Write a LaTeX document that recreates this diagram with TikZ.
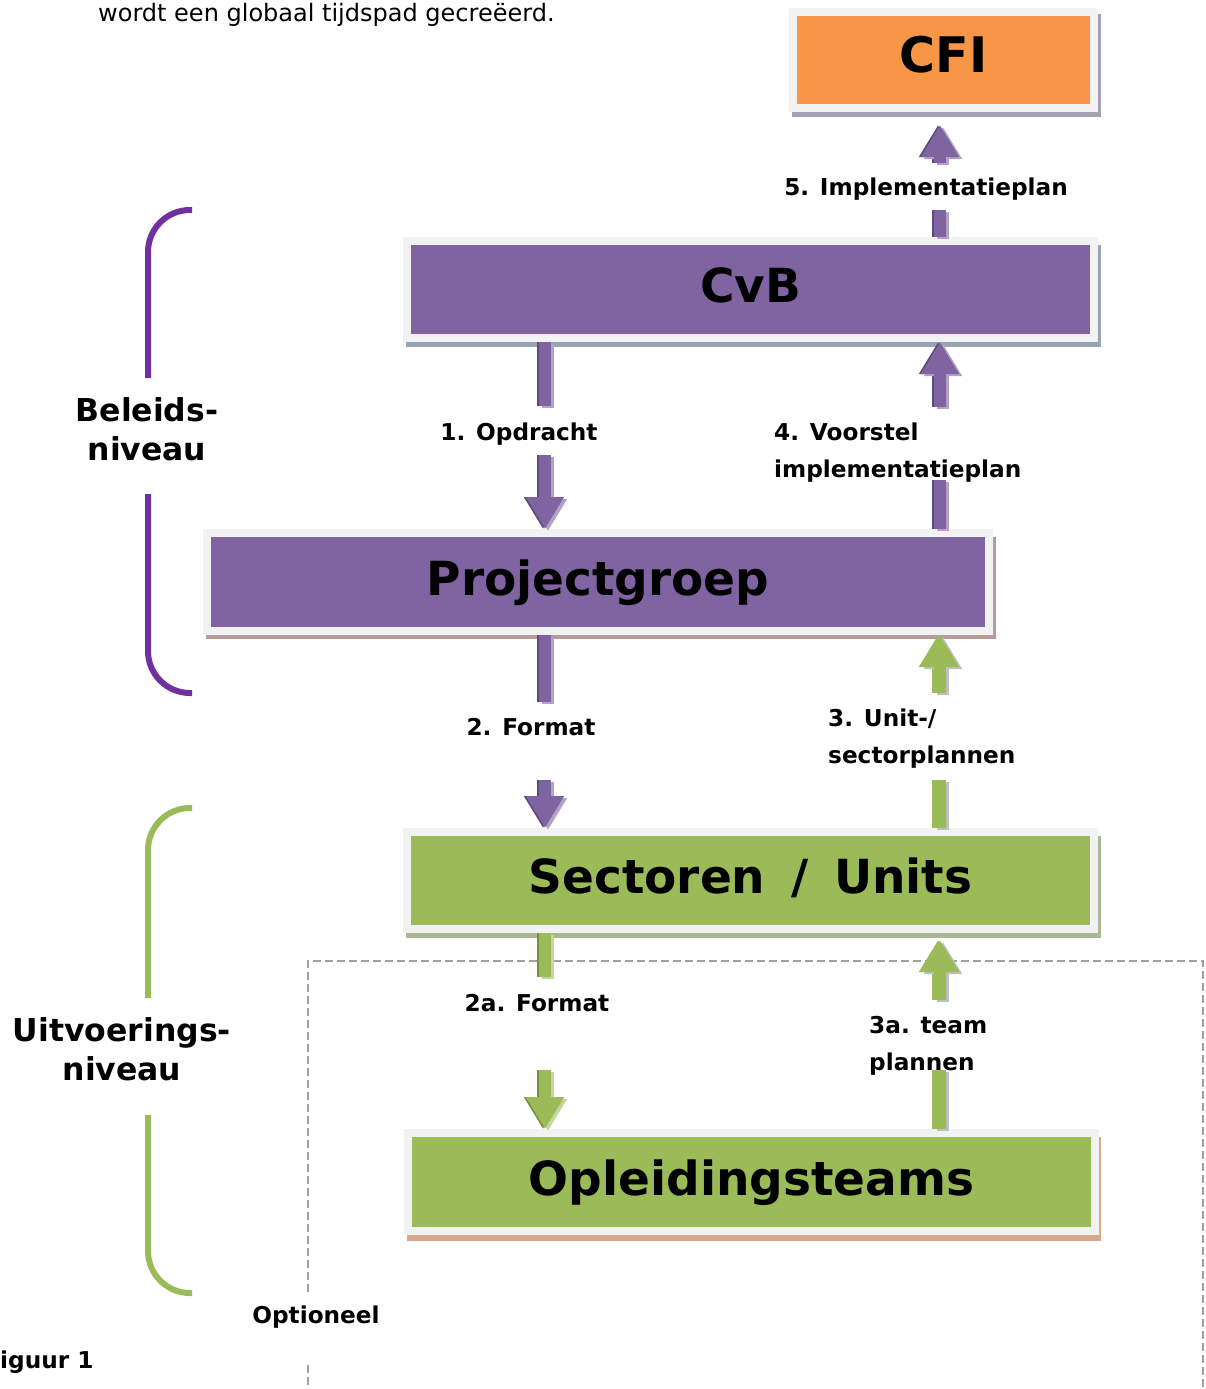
\documentclass[tikz,border=0pt]{standalone}
\usepackage{fontspec}
\setmainfont{DejaVu Sans}
\usetikzlibrary{arrows.meta}
\definecolor{pmain}{HTML}{8064A2}
\definecolor{pdark}{HTML}{5F497A}
\definecolor{plight}{HTML}{B3A2C7}
\definecolor{gmain}{HTML}{9BBB59}
\definecolor{gdark}{HTML}{76923C}
\definecolor{glight}{HTML}{C3D69B}
\definecolor{gshade}{HTML}{BFBFBF}
\definecolor{cfiorange}{HTML}{F79646}
\definecolor{framegray}{HTML}{F2F2F2}
\definecolor{bpurple}{HTML}{7030A0}
\definecolor{shcfi}{HTML}{A6A0B4}
\definecolor{shcvb}{HTML}{98A4B4}
\definecolor{shpg}{HTML}{B89A9A}
\definecolor{shsect}{HTML}{AAB894}
\definecolor{shopl}{HTML}{D8AA8C}
\definecolor{dashgray}{HTML}{A0A0A0}
\tikzset{
  boxst/.style={draw=framegray, line width=8pt, inner sep=0pt,
    font=\bfseries\fontsize{47}{50}\selectfont, text height=34pt, text depth=8pt},
  lbl/.style={inner sep=0pt, font=\bfseries\fontsize{23.2}{37}\selectfont},
  lvl/.style={inner sep=0pt, align=center, font=\bfseries\fontsize{31.5}{39}\selectfont},
  tipd/.style={-{Triangle[width=36pt,length=32pt]}},
  notip/.style={},
  bracketline/.style={line width=6pt, rounded corners=42pt},
  dashline/.style={draw=dashgray, line width=1.3pt, dash pattern=on 8pt off 4pt}
}
\newcommand{\fatarrow}[5]{%
  \draw[line width=12pt, draw=#2, #4, transform canvas={xshift=-2pt}] #5;
  \draw[line width=12pt, draw=#3, #4, transform canvas={xshift=3pt, yshift=-2pt}] #5;
  \draw[line width=12pt, draw=#1, #4] #5;
}
\begin{document}
\begin{tikzpicture}[x=1pt,y=-1pt]
\useasboundingbox[fill=white] (0,0) rectangle (1205,1389);

% top text
\node[inner sep=0pt, anchor=base west, font=\fontsize{24}{28}\selectfont] (toptext) at (98,22) {wordt een globaal tijdspad gecreëerd.};

% dashed optional area
\draw[dashline] (308,1292) -- (308,961) -- (1203,961) -- (1203,1389);
\draw[dashline] (308,1365) -- (308,1389);

% boxes with shadows
\fill[shcfi] (792,14) rectangle (1101,117);
\node[boxst, fill=cfiorange, minimum width=301pt, minimum height=96pt,
  font=\bfseries\fontsize{49}{52}\selectfont, text depth=10pt] (cfi) at (943.5,60) {CFI};

\fill[shcvb] (406,245) rectangle (1101,347);
\node[boxst, fill=pmain, minimum width=687pt, minimum height=97pt] (cvb) at (750.5,289.5) {CvB};

\fill[shpg] (206,537) rectangle (996,639);
\node[boxst, fill=pmain, minimum width=782pt, minimum height=98pt] (pg) at (598,582) {Projectgroep};

\fill[shsect] (406,836) rectangle (1101,938);
\node[boxst, fill=gmain, minimum width=687pt, minimum height=97pt] (sect) at (750.5,880.5) {Sectoren\hspace{0.55em}/\hspace{0.55em}Units};

\fill[shopl] (407,1137) rectangle (1101,1241);
\node[boxst, fill=gmain, minimum width=687pt, minimum height=98pt] (opl) at (751.5,1182) {Opleidingsteams};

% labels
\node[lbl, anchor=base] (l5) at (926,195) {5. Implementatieplan};
\node[lbl, anchor=base] (l1) at (519,440) {1. Opdracht};
\node[lbl, anchor=north west, align=left] (l4) at (774,423) {4. Voorstel\\implementatieplan};
\node[lbl, anchor=base] (l2) at (531,735) {2. Format};
\node[lbl, anchor=north west, align=left] (l3) at (828,709) {3. Unit-/\\sectorplannen};
\node[lbl, anchor=base] (l2a) at (537,1011) {2a. Format};
\node[lbl, anchor=north west, align=left] (l3a) at (869,1016) {3a. team\\plannen};
\node[lbl, anchor=base] (opt) at (316,1323) {Optioneel};
\node[lbl, anchor=base west] (fig) at (0,1368) {iguur 1};
\node[lvl, anchor=north] (beleid) at (147,397) {Beleids-\\niveau};
\node[lvl, anchor=north] (uitv) at (122,1017) {Uitvoerings-\\niveau};

% brackets
\draw[bracketline, draw=bpurple] (192,210) -- (148,210) -- (148,378);
\draw[bracketline, draw=bpurple] (148,494) -- (148,693) -- (192,693);
\draw[bracketline, draw=gmain] (192,808) -- (148,808) -- (148,998);
\draw[bracketline, draw=gmain] (148,1115) -- (148,1293) -- (192,1293);

% arrow coordinates
\coordinate (a5a) at (940,210);
\coordinate (a5b) at (940,163);
\coordinate (a5tip) at (940,125);
\coordinate (a1a) at (545,406);
\coordinate (a1b) at (545,455);
\coordinate (a4a) at (940,480);
\coordinate (a4b) at (940,407);
\coordinate (a2a) at (545,702);
\coordinate (a2b) at (545,780);
\coordinate (a3a) at (940,780);
\coordinate (a3b) at (940,693);
\coordinate (a2aa) at (545,977);
\coordinate (a2ab) at (545,1070);
\coordinate (a3aa) at (940,1070);
\coordinate (a3ab) at (940,1000);
\coordinate (a3atip) at (940,940);

% arrow 5
\fatarrow{pmain}{pdark}{plight}{notip}{(cvb.north -| a5a) -- (a5a)}
\fatarrow{pmain}{pdark}{plight}{tipd}{(a5b) -- (a5tip)}
% arrow 1
\fatarrow{pmain}{pdark}{plight}{notip}{(cvb.south -| a1a) -- (a1a)}
\fatarrow{pmain}{pdark}{plight}{tipd}{(a1b) -- (pg.north -| a1b)}
% arrow 4
\fatarrow{pmain}{pdark}{plight}{notip}{(pg.north -| a4a) -- (a4a)}
\fatarrow{pmain}{pdark}{plight}{tipd}{(a4b) -- (cvb.south -| a4b)}
% arrow 2
\fatarrow{pmain}{pdark}{plight}{notip}{(pg.south -| a2a) -- (a2a)}
\fatarrow{pmain}{pdark}{plight}{tipd}{(a2b) -- (sect.north -| a2b)}
% arrow 3
\fatarrow{gmain}{gmain}{gshade}{notip}{(sect.north -| a3a) -- (a3a)}
\fatarrow{gmain}{gmain}{gshade}{tipd}{(a3b) -- (pg.south -| a3b)}
% arrow 2a
\fatarrow{gmain}{gdark}{glight}{notip}{(sect.south -| a2aa) -- (a2aa)}
\fatarrow{gmain}{gdark}{glight}{tipd}{(a2ab) -- (opl.north -| a2ab)}
% arrow 3a
\fatarrow{gmain}{gmain}{gshade}{notip}{(opl.north -| a3aa) -- (a3aa)}
\fatarrow{gmain}{gmain}{gshade}{tipd}{(a3ab) -- (a3atip)}
\end{tikzpicture}
\end{document}
